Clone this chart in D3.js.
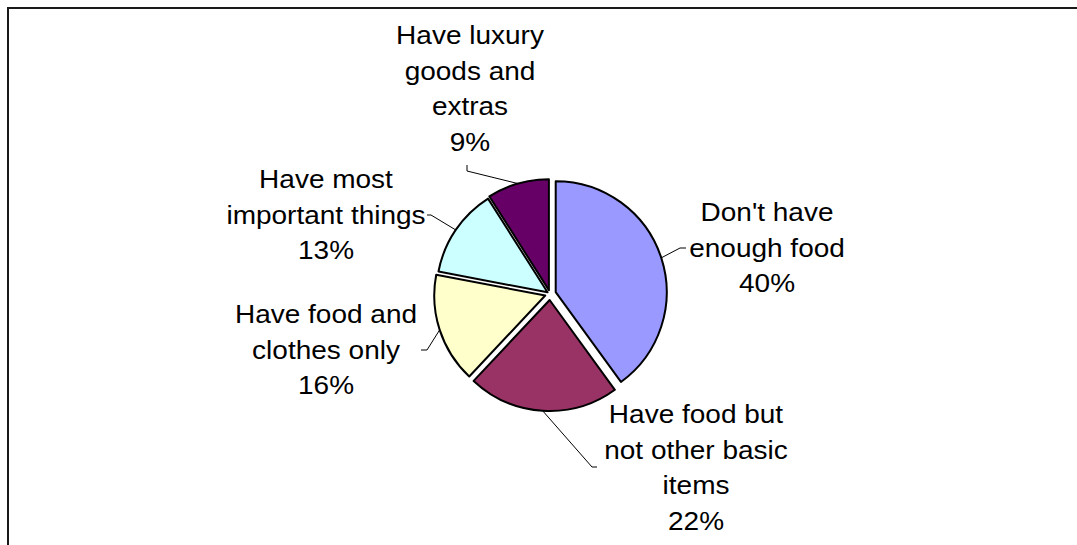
<!DOCTYPE html>
<html>
<head>
<meta charset="utf-8">
<script src="https://cdn.jsdelivr.net/npm/d3@7"></script>
<style>
  html, body { margin: 0; padding: 0; background: #fff; }
  svg { display: block; }
  text { font-family: "Liberation Sans", Arial, sans-serif; fill: #000; }
</style>
</head>
<body>
<svg id="chart" width="1077" height="545"></svg>
<script>
// Share of households by material situation (percent)
const categories = [
  "Don't have enough food",
  "Have food but not other basic items",
  "Have food and clothes only",
  "Have most important things",
  "Have luxury goods and extras"
];
const values = [40, 22, 16, 13, 9];
const labelLines = [
  ["Don't have", "enough food"],
  ["Have food but", "not other basic", "items"],
  ["Have food and", "clothes only"],
  ["Have most", "important things"],
  ["Have luxury", "goods and", "extras"]
];
const colors = ["#9999FF", "#993366", "#FFFFCC", "#CCFFFF", "#660066"];

// Layout
const W = 1077, H = 545;
const cx = 550, cy = 294, R = 111;
const explode = [6, 6, 5, 3, 4];
const fontSize = 25, lineH = 35.7, stretch = 1.12;
// label block anchor: centre x, baseline of first line; leader elbow and end points
const labelLayout = [
  { x: 767, y: 221, elbow: [680, 248], end: [686, 248] },
  { x: 696, y: 423, elbow: [592, 467], end: [597, 467] },
  { x: 326, y: 323, elbow: [427, 350], end: [421, 350] },
  { x: 326, y: 188, elbow: [431, 215], end: [427, 215] },
  { x: 470, y: 44,  elbow: [467, 171], end: [467, 165] }
];

const svg = d3.select("#chart");

// frame of the chart area (right and bottom edges run past the view)
svg.append("rect")
  .attr("x", 8).attr("y", 8)
  .attr("width", W + 40).attr("height", H + 40)
  .attr("fill", "none")
  .attr("stroke", "#1a1a1a")
  .attr("stroke-width", 2);

const pie = d3.pie().sort(null).value(d => d)(values);
const arc = d3.arc().innerRadius(0).outerRadius(R);

function offsetOf(d, i) {
  const a = (d.startAngle + d.endAngle) / 2;
  return [explode[i] * Math.sin(a), -explode[i] * Math.cos(a)];
}

const g = svg.append("g").attr("transform", `translate(${cx},${cy})`);

g.selectAll("path.slice")
  .data(pie)
  .join("path")
  .attr("class", "slice")
  .attr("transform", (d, i) => { const o = offsetOf(d, i); return `translate(${o[0]},${o[1]})`; })
  .attr("d", arc)
  .attr("fill", (d, i) => colors[i])
  .attr("stroke", "#000")
  .attr("stroke-width", 2)
  .attr("stroke-linejoin", "round");

// leader lines from slice edge at its mid-angle
pie.forEach((d, i) => {
  const a = (d.startAngle + d.endAngle) / 2;
  const o = offsetOf(d, i);
  const px = cx + o[0] + R * Math.sin(a);
  const py = cy + o[1] - R * Math.cos(a);
  const L = labelLayout[i];
  svg.append("polyline")
    .attr("points", [[px, py], L.elbow, L.end].map(p => p.join(",")).join(" "))
    .attr("fill", "none")
    .attr("stroke", "#000")
    .attr("stroke-width", 1);
});

// labels: category lines plus percentage
labelLines.forEach((lines, i) => {
  const L = labelLayout[i];
  const t = svg.append("text")
    .attr("transform", `translate(${L.x},${L.y}) scale(${stretch},1)`)
    .attr("text-anchor", "middle")
    .attr("font-size", fontSize);
  lines.concat([values[i] + "%"]).forEach((s, k) => {
    t.append("tspan").attr("x", 0).attr("y", k * lineH).text(s);
  });
});
</script>
</body>
</html>
